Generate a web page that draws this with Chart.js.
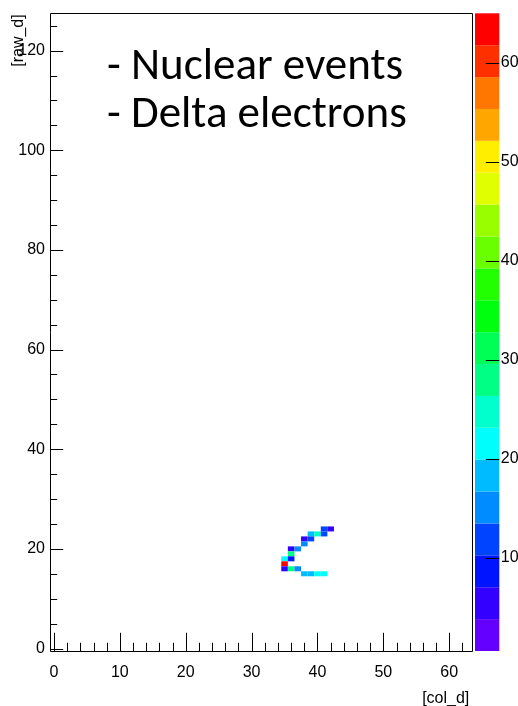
<!DOCTYPE html>
<html>
<head>
<meta charset="utf-8">
<script src="https://cdn.jsdelivr.net/npm/chart.js@4.4.1/dist/chart.umd.min.js"></script>
<style>
  html, body { margin: 0; padding: 0; background: #fff; overflow: hidden; }
  canvas { display: block; }
</style>
</head>
<body>
<canvas id="c" width="518" height="706"></canvas>
<script>
// Hit map: pixel column, pixel row and number of hits in that pixel
const hitCols   = [41, 42, 39, 40, 41, 38, 39, 38, 36, 37, 36, 35, 36, 35, 35, 36, 37, 38, 39, 40, 41];
const hitRows   = [24, 24, 23, 23, 23, 22, 22, 21, 20, 20, 19, 18, 18, 17, 16, 16, 16, 15, 15, 15, 15];
const hitCounts = [12,  5, 18, 25, 12,  5, 11, 15,  5, 15, 28, 21,  9, 62,  5, 28, 15, 18, 18, 21, 21];

// Axis ranges and tick labels
const xRange = [-0.5, 63.5];
const yRange = [-0.5, 127.5];
const zRange = [0.6, 65];
const xTickValues = [0, 10, 20, 30, 40, 50, 60];
const yTickValues = [0, 20, 40, 60, 80, 100, 120];
const zTickValues = [10, 20, 30, 40, 50, 60];
const xMinorStep = 2;
const yMinorStep = 5;
const xTitle = '[col_d]';
const yTitle = '[raw_d]';
const noteLines = ['- Nuclear events', '- Delta electrons'];

const nContours = 20;
const axisFont = '16px "Liberation Sans", Arial, Helvetica, sans-serif';

// Violet -> red rainbow palette, 50 hues sampled for each contour level
function paletteColor(k) {
  const j = Math.floor((k + 0.99) * 50 / nContours);
  const hue = Math.max(0, 280 - (j + 1) * 5.6);
  return 'hsl(' + hue + ', 100%, 50%)';
}
function contourIndex(v) {
  const k = Math.floor(0.01 + (v - zRange[0]) * nContours / (zRange[1] - zRange[0]));
  return Math.min(nContours - 1, Math.max(0, k));
}

const explicitTicks = values => scale => { scale.ticks = values.map(v => ({ value: v })); };
// fixed scale thickness, no extra room reserved for edge labels
const fixedSize = (prop, size) => scale => {
  scale[prop] = size;
  scale.paddingTop = scale.paddingBottom = scale.paddingLeft = scale.paddingRight = 0;
};

const histPainter = {
  id: 'histPainter',
  beforeDatasetsDraw(chart) {
    const { ctx, scales: { x, y } } = chart;
    ctx.save();
    for (let i = 0; i < hitCounts.length; i++) {
      const x0 = x.getPixelForValue(hitCols[i] - 0.5);
      const x1 = x.getPixelForValue(hitCols[i] + 0.5);
      const y0 = y.getPixelForValue(hitRows[i] + 0.5);
      const y1 = y.getPixelForValue(hitRows[i] - 0.5);
      ctx.fillStyle = paletteColor(contourIndex(hitCounts[i]));
      ctx.fillRect(x0, y0, x1 - x0, y1 - y0);
    }
    ctx.restore();
  },
  afterDraw(chart) {
    const { ctx, chartArea: a, scales: { x, y, z } } = chart;
    ctx.save();

    // colour scale bar
    const barL = a.right + 2.7, barR = a.right + 27;
    for (let k = 0; k < nContours; k++) {
      const lo = zRange[0] + k * (zRange[1] - zRange[0]) / nContours;
      const hi = zRange[0] + (k + 1) * (zRange[1] - zRange[0]) / nContours;
      const p0 = z.getPixelForValue(hi), p1 = z.getPixelForValue(lo);
      ctx.fillStyle = paletteColor(k);
      ctx.fillRect(barL, p0, barR - barL, p1 - p0);
    }
    ctx.strokeStyle = '#000';
    ctx.lineWidth = 1;
    ctx.beginPath();
    zTickValues.forEach(v => {
      const p = Math.round(z.getPixelForValue(v)) + 0.5;
      ctx.moveTo(barR - 13.5, p);
      ctx.lineTo(barR, p);
    });
    ctx.stroke();

    // frame
    const L = Math.floor(a.left) + 0.5, R = Math.floor(a.right) + 0.5;
    const T = Math.floor(a.top) + 0.5, B = Math.floor(a.bottom) + 0.5;
    ctx.strokeStyle = '#000';
    ctx.beginPath();
    ctx.moveTo(L, T); ctx.lineTo(R, T); ctx.lineTo(R, B); ctx.lineTo(L, B); ctx.closePath();
    ctx.stroke();

    // tick marks inside the frame
    ctx.beginPath();
    for (let v = 0; v <= xRange[1]; v += xMinorStep) {
      const p = Math.round(x.getPixelForValue(v)) + 0.5;
      const len = v % 10 === 0 ? 18.7 : 8.7;
      ctx.moveTo(p, B); ctx.lineTo(p, B - len);
    }
    for (let v = 0; v <= yRange[1]; v += yMinorStep) {
      const p = Math.round(y.getPixelForValue(v)) + 0.5;
      const len = v % 20 === 0 ? 12.7 : 6.7;
      ctx.moveTo(L, p); ctx.lineTo(L + len, p);
    }
    ctx.stroke();

    // axis titles
    ctx.fillStyle = '#000';
    ctx.font = axisFont;
    ctx.textAlign = 'right';
    ctx.textBaseline = 'alphabetic';
    ctx.fillText(xTitle, a.right - 3, 703);
    ctx.save();
    ctx.translate(23, a.top + 1);
    ctx.rotate(-Math.PI / 2);
    ctx.fillText(yTitle, 0, 0);
    ctx.restore();

    // annotation
    ctx.font = '45px Carlito, Calibri, Lato, "Open Sans", sans-serif';
    ctx.textAlign = 'left';
    ctx.fillText(noteLines[0], 107, 79);
    ctx.fillText(noteLines[1], 107, 127);
    ctx.restore();
  }
};

const tickFont = { family: '"Liberation Sans", Arial, Helvetica, sans-serif', size: 16 };

new Chart(document.getElementById('c'), {
  type: 'scatter',
  data: { datasets: [{ data: [], pointRadius: 0 }] },
  options: {
    responsive: false,
    animation: false,
    events: [],
    layout: { padding: { top: 13.3, left: 0, right: 0, bottom: 0 } },
    plugins: { legend: { display: false }, tooltip: { enabled: false } },
    scales: {
      x: {
        type: 'linear', position: 'bottom', min: xRange[0], max: xRange[1],
        afterBuildTicks: explicitTicks(xTickValues),
        afterFit: fixedSize('height', 55),
        grid: { display: false, drawTicks: false },
        border: { display: false },
        ticks: { font: tickFont, color: '#000', padding: 12, maxRotation: 0, autoSkip: false }
      },
      y: {
        type: 'linear', position: 'left', min: yRange[0], max: yRange[1],
        afterBuildTicks: explicitTicks(yTickValues),
        afterFit: fixedSize('width', 50.7),
        grid: { display: false, drawTicks: false },
        border: { display: false },
        ticks: { font: tickFont, color: '#000', padding: 5.7, autoSkip: false }
      },
      z: {
        type: 'linear', position: 'right', min: zRange[0], max: zRange[1],
        afterBuildTicks: explicitTicks(zTickValues),
        afterFit: fixedSize('width', 45.7),
        grid: { display: false, drawTicks: false },
        border: { display: false },
        ticks: { font: tickFont, color: '#000', padding: 28.5, autoSkip: false }
      }
    }
  },
  plugins: [histPainter]
});
</script>
</body>
</html>
